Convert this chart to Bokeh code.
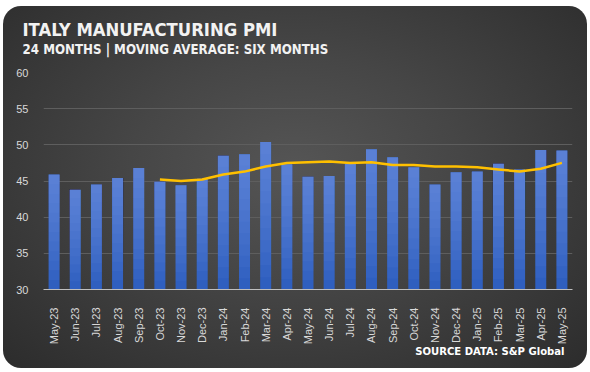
from bokeh.plotting import figure
from bokeh.models import ColumnDataSource, FactorRange, FixedTicker, Title
from bokeh.embed import file_html
from bokeh.resources import INLINE
from math import pi

months = ["May-23", "Jun-23", "Jul-23", "Aug-23", "Sep-23", "Oct-23", "Nov-23", "Dec-23",
          "Jan-24", "Feb-24", "Mar-24", "Apr-24", "May-24", "Jun-24", "Jul-24", "Aug-24",
          "Sep-24", "Oct-24", "Nov-24", "Dec-24", "Jan-25", "Feb-25", "Mar-25", "Apr-25", "May-25"]
pmi = [45.9, 43.8, 44.5, 45.4, 46.8, 44.9, 44.4, 45.3, 48.5, 48.7, 50.4, 47.3, 45.6,
       45.7, 47.4, 49.4, 48.3, 46.9, 44.5, 46.2, 46.3, 47.4, 46.6, 49.3, 49.2]
ma_months = months[5:]
ma_values = [45.2, 45.0, 45.2, 45.9, 46.3, 47.0, 47.5, 47.6, 47.7, 47.5, 47.6, 47.2,
             47.2, 47.0, 47.0, 46.9, 46.6, 46.3, 46.7, 47.5]
y_ticks = [30, 35, 40, 45, 50, 55, 60]
Y0 = 30

W, H = 584, 362
p = figure(x_range=FactorRange(*months), y_range=(Y0, 60), width=W, height=H,
           output_backend="svg", toolbar_location=None,
           min_border_left=40, min_border_right=15, min_border_top=66, min_border_bottom=79)
p.border_fill_color = None
p.background_fill_color = None
p.outline_line_color = None
p.styles = {"background": "radial-gradient(ellipse at 50% 45%, #555555 0%, #464646 40%, #2c2c2c 100%)",
            "border-radius": "18px", "margin-left": "3px", "margin-top": "6px"}

# bars with a vertical light-to-dark shading
src = ColumnDataSource(dict(m=months, v=pmi))
p.vbar(x="m", top="v", bottom=Y0, width=0.52, source=src, fill_color="#2f5fbf", line_color=None)
N = 12
for i in range(1, N):
    bottoms = [Y0 + (v - Y0) * i / N for v in pmi]
    p.vbar(x=months, top=pmi, bottom=bottoms, width=0.52, fill_color="#8cacea",
           fill_alpha=0.065, line_color=None)

p.line(x=ma_months, y=ma_values, line_color="#ffc000", line_width=2.5)

p.xgrid.grid_line_color = None
p.ygrid.grid_line_color = "#5e5e5e"
p.ygrid.ticker = FixedTicker(ticks=y_ticks)
p.yaxis.ticker = FixedTicker(ticks=y_ticks)
p.yaxis.axis_line_color = None
p.yaxis.major_tick_line_color = None
p.yaxis.minor_tick_line_color = None
p.yaxis.major_label_text_color = "#d9d9d9"
p.yaxis.major_label_text_font = "Liberation Sans"
p.yaxis.major_label_text_font_size = "11px"
p.yaxis.major_label_standoff = 9
p.xaxis.axis_line_color = "#bfbfbf"
p.xaxis.major_tick_line_color = None
p.xaxis.major_label_orientation = pi / 2
p.xaxis.major_label_text_color = "#d9d9d9"
p.xaxis.major_label_text_font = "Liberation Sans"
p.xaxis.major_label_text_font_size = "11px"
p.xaxis.major_label_standoff = 12

sub = Title(text="24 MONTHS | MOVING AVERAGE: SIX MONTHS", align="left", offset=-21,
            text_font="DejaVu Sans Condensed", text_font_style="bold", text_font_size="13.2px",
            text_color="#f2f2f2", standoff=31)
title = Title(text="ITALY MANUFACTURING PMI", align="left", offset=-21,
              text_font="DejaVu Sans Condensed", text_font_style="bold", text_font_size="18.3px",
              text_color="#f2f2f2", standoff=-31)
src_lbl = Title(text="SOURCE DATA: S&P Global", align="right", offset=8,
                text_font="DejaVu Sans Condensed", text_font_style="bold", text_font_size="11.2px",
                text_color="#ffffff", standoff=-10)
p.add_layout(sub, "above")
p.add_layout(title, "above")
p.add_layout(src_lbl, "below")

open("out.html", "w").write(file_html(p, INLINE))
